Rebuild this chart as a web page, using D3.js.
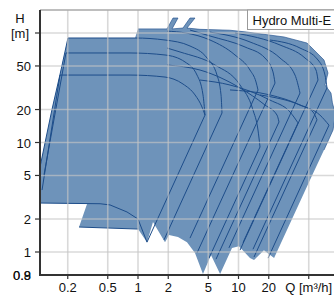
<!DOCTYPE html>
<html>
<head>
<meta charset="utf-8">
<script src="https://cdn.jsdelivr.net/npm/d3@7"></script>
<style>
  html, body { margin: 0; padding: 0; background: #fff; }
  svg { display: block; font-family: "Liberation Sans", Arial, sans-serif; }
</style>
</head>
<body>
<div id="chart"></div>
<script>
const width = 334;
const height = 297;

// axis ticks and labels
const qTicks = [0.2, 0.5, 1, 2, 5, 10, 20, 50];
const qLabels = ["0.2", "0.5", "1", "2", "5", "10", "20", "Q [m³/h]"];
const hTicks = [1, 2, 5, 10, 20, 50, 100];
const hLabels = ["1", "2", "5", "10", "20", "50", "[m]"];
const hBottomLabels = ["0.8", "0.9"];

// outer operating range (Q m3/h, H m)
const envelope = [
  [0.106, 2.8], [0.311, 2.74], [0.259, 1.69], [1.0, 1.62], [1.229, 1.23], [1.41, 1.88],
  [1.856, 1.23], [2.034, 1.43], [2.5, 1.37], [3.073, 1.23], [3.692, 0.98], [4.43, 0.63],
  [5.325, 0.94], [6.56, 0.63], [8.617, 1.09], [10.1, 1.13], [13.0, 0.88], [14.27, 0.845],
  [17.9, 1.04], [22.6, 0.88], [51.44, 4.55], [70.89, 8.54], [87.2, 13.0], [92.3, 18.0],
  [86.0, 23.0], [83.2, 28.3], [72.55, 33.5], [77.7, 43.1], [70.89, 56.7], [56.4, 70.0],
  [48.0, 81.0], [28.4, 92.0], [12.1, 102], [8.2, 106], [4.14, 108], [3.07, 111],
  [3.69, 137], [3.29, 137], [2.80, 111], [2.18, 109], [2.50, 137], [2.23, 137],
  [1.944, 109], [1.0, 109], [0.934, 90], [0.201, 90], [0.167, 41.3], [0.139, 19.8],
  [0.119, 10.0], [0.106, 5.97]
];

// max speed curves, each ends at its max-flow point
const pumpCurves = [
  [[0.201, 90], [0.934, 90], [1.856, 86.3], [3.291, 76.1], [4.86, 59.1], [6.11, 41.3], [6.70, 27.2], [6.85, 18.6]],
  [[0.192, 65.7], [0.833, 65.7], [1.856, 63.0], [2.935, 54.4], [3.865, 41.3], [4.434, 27.2], [4.642, 17.8]],
  [[0.1675, 41.3], [0.833, 41.3], [1.856, 39.6], [2.804, 34.2], [3.692, 27.2], [4.333, 21.1], [4.642, 17.8]],
  [[1.944, 104], [3.0, 100], [5.204, 86.3], [9.231, 63.0], [13.01, 45.9], [14.94, 35.7], [15.63, 30.2]],
  [[1.944, 72.9], [2.618, 67.1], [5.838, 51.0], [10.35, 33.5], [13.94, 19.8], [15.63, 13.0], [16.37, 9.10]],
  [[3.29, 106.5], [5.204, 93.9], [11.61, 74.5], [18.34, 59.1], [22.04, 44.1], [23.08, 34.9]],
  [[1.944, 51.0], [4.14, 45.9], [10.35, 31.5], [18.34, 22.0], [24.16, 17.8], [25.29, 15.4]],
  [[5.204, 101.9], [13.01, 82.8], [25.88, 59.1], [36.5, 41.3], [40.93, 28.3]],
  [[4.14, 37.2], [8.231, 33.5], [20.58, 24.4], [32.54, 19.0], [39.09, 15.1]],
  [[9.231, 100], [25.88, 77.7], [45.88, 59.1], [59.04, 45.9], [61.8, 37.2]],
  [[8.231, 30.2], [20.58, 27.2], [40.93, 22.0], [55.12, 19.0], [60.4, 16.1]],
  [[20.58, 86.3], [40.93, 72.9], [61.8, 56.7], [72.55, 41.3], [75.96, 31.5]],
  [[16.37, 27.2], [40.93, 22.0], [64.6, 17.8], [79.5, 14.4]]
];

// where the reduced-speed line from each max-flow point meets the bottom
const affinityEnds = [
  [1.814, 1.29], [1.229, 1.23], null, [3.291, 1.34], [5.088, 0.88], [3.865, 0.98],
  [5.972, 0.86], [8.03, 1.09], [11.09, 1.22], [10.35, 1.04], [14.27, 0.90],
  [13.94, 1.06], [19.7, 0.88]
];

// small pump lines at the left
const lowCurve = [[0.106, 2.8], [0.419, 2.76], [0.527, 2.69], [0.777, 2.32], [1.0, 2.0], [1.229, 1.23]];
const leftLines = [
  [[0.201, 90], [0.167, 41.3], [0.139, 19.8], [0.119, 10.0], [0.106, 5.97]],
  [[0.192, 65.7], [0.116, 5.05]],
  [[0.1675, 41.3], [0.111, 3.68]],
  [[0.259, 1.69], [1.0, 1.62]]
];

const fillColor = "#6e93ba";
const lineColor = "#1d4d8a";

const x = d3.scaleLog().domain([0.1, 100]).range([37.5, 339]);
const y = d3.scaleLog().domain([1, 100]).range([252, 33]);
const plot = { left: 40, right: 352, top: 10, bottom: 275 };

const svg = d3.select("#chart").append("svg")
    .attr("width", width)
    .attr("height", height);

svg.append("defs").append("clipPath").attr("id", "plotClip")
  .append("rect")
    .attr("x", plot.left)
    .attr("y", plot.top)
    .attr("width", plot.right - plot.left)
    .attr("height", plot.bottom - plot.top);

const g = svg.append("g").attr("clip-path", "url(#plotClip)");

const line = d3.line().x(d => x(d[0])).y(d => y(d[1]));
const smooth = d3.line().x(d => x(d[0])).y(d => y(d[1])).curve(d3.curveMonotoneX);

g.append("path")
    .attr("d", line(envelope) + "Z")
    .attr("fill", fillColor)
    .attr("stroke", "none");

// top edge of range
g.append("path")
    .attr("d", line(envelope.slice(21, 44)))
    .attr("fill", "none")
    .attr("stroke", lineColor)
    .attr("stroke-opacity", 0.7)
    .attr("stroke-width", 0.9);

g.selectAll(".pump")
  .data(pumpCurves)
  .join("path")
    .attr("class", "pump")
    .attr("d", (d, i) => {
        let p = smooth(d);
        if (affinityEnds[i]) {
            const e = affinityEnds[i];
            p += "L" + x(e[0]) + "," + y(e[1]);
        }
        return p;
    })
    .attr("fill", "none")
    .attr("stroke", lineColor)
    .attr("stroke-width", 1);

g.append("path")
    .attr("d", line(lowCurve))
    .attr("fill", "none")
    .attr("stroke", lineColor)
    .attr("stroke-width", 1);

g.selectAll(".left-line")
  .data(leftLines)
  .join("path")
    .attr("class", "left-line")
    .attr("d", d => line(d))
    .attr("fill", "none")
    .attr("stroke", lineColor)
    .attr("stroke-width", 1);

// grid on top of the range
const grid = svg.append("g")
    .attr("stroke", "#c4c4c4")
    .attr("stroke-opacity", 0.65)
    .attr("stroke-width", 1.6);

grid.selectAll(".vgrid")
  .data(qTicks)
  .join("line")
    .attr("x1", d => x(d)).attr("x2", d => x(d))
    .attr("y1", plot.top).attr("y2", plot.bottom);

grid.selectAll(".hgrid")
  .data(hTicks)
  .join("line")
    .attr("x1", plot.left).attr("x2", plot.right)
    .attr("y1", d => y(d)).attr("y2", d => y(d));

// frame
svg.append("line")
    .attr("x1", plot.left).attr("x2", plot.right)
    .attr("y1", plot.top).attr("y2", plot.top)
    .attr("stroke", "#a8a8a8")
    .attr("stroke-width", 1.6);

const axis = svg.append("g").attr("stroke", "#333").attr("stroke-width", 2);
axis.append("line")
    .attr("x1", plot.left).attr("x2", plot.left)
    .attr("y1", plot.top).attr("y2", plot.bottom + 1);
axis.append("line")
    .attr("x1", plot.left - 1).attr("x2", plot.right)
    .attr("y1", plot.bottom).attr("y2", plot.bottom);

axis.selectAll(".ytick")
  .data(hTicks)
  .join("line")
    .attr("stroke-width", 1.2)
    .attr("x1", plot.left - 5).attr("x2", plot.left)
    .attr("y1", d => y(d)).attr("y2", d => y(d));

axis.selectAll(".xtick")
  .data(qTicks)
  .join("line")
    .attr("stroke-width", 1.2)
    .attr("x1", d => x(d)).attr("x2", d => x(d))
    .attr("y1", plot.bottom).attr("y2", plot.bottom + 4);

const labels = svg.append("g")
    .attr("font-size", 13)
    .attr("fill", "#111");

labels.selectAll(".ylabel")
  .data(hTicks)
  .join("text")
    .attr("x", (d, i) => i === hTicks.length - 1 ? 20 : 31)
    .attr("y", d => y(d) + 5)
    .attr("text-anchor", (d, i) => i === hTicks.length - 1 ? "middle" : "end")
    .text((d, i) => hLabels[i]);

labels.append("text")
    .attr("x", 20)
    .attr("y", 23)
    .attr("text-anchor", "middle")
    .text("H");

labels.selectAll(".ylabel-bottom")
  .data(hBottomLabels)
  .join("text")
    .attr("x", 31)
    .attr("y", plot.bottom + 5)
    .attr("text-anchor", "end")
    .text(d => d);

labels.selectAll(".xlabel")
  .data(qTicks)
  .join("text")
    .attr("x", d => x(d))
    .attr("y", 292)
    .attr("text-anchor", "middle")
    .text((d, i) => qLabels[i]);

// legend
const legend = svg.append("g");
legend.append("rect")
    .attr("x", 247.5)
    .attr("y", 10)
    .attr("width", 110)
    .attr("height", 19.5)
    .attr("fill", "#fff")
    .attr("stroke", "#9a9a9a")
    .attr("stroke-width", 1);
legend.append("text")
    .attr("x", 252.5)
    .attr("y", 24.5)
    .attr("font-size", 13)
    .attr("fill", "#111")
    .text("Hydro Multi-E");
</script>
</body>
</html>
